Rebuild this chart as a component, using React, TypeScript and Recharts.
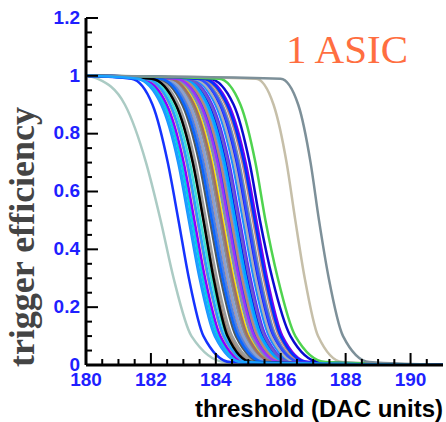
import React from 'react';
import { LineChart, Line, XAxis, YAxis } from 'recharts';

// efficiency levels at which each channel's threshold (DAC) was read
const efficiencyLevels = [0.99, 0.9, 0.7, 0.5, 0.3, 0.1, 0.01];
const scanStart = 180;
const scanEnd = 191;

// one row per channel: threshold at each efficiency level above
const channelThresholds: number[][] = [
  [180.35, 181.2, 181.85, 182.3, 182.7, 183.25, 184.3],
  [185.24, 185.78, 186.18, 186.45, 186.74, 187.15, 187.9],
  [181.57, 182.32, 182.84, 183.17, 183.5, 183.97, 184.77],
  [181.67, 182.42, 182.94, 183.27, 183.6, 184.07, 184.87],
  [181.74, 182.49, 183.01, 183.34, 183.67, 184.14, 184.94],
  [181.83, 182.58, 183.1, 183.43, 183.76, 184.23, 185.03],
  [181.93, 182.68, 183.2, 183.53, 183.86, 184.33, 185.13],
  [182.03, 182.78, 183.3, 183.63, 183.96, 184.43, 185.23],
  [182.1, 182.85, 183.37, 183.7, 184.03, 184.5, 185.3],
  [182.22, 182.97, 183.49, 183.82, 184.15, 184.62, 185.42],
  [182.32, 183.07, 183.59, 183.92, 184.25, 184.72, 185.52],
  [182.42, 183.17, 183.69, 184.02, 184.35, 184.82, 185.62],
  [182.52, 183.27, 183.79, 184.12, 184.45, 184.92, 185.72],
  [182.62, 183.37, 183.89, 184.22, 184.55, 185.02, 185.82],
  [182.73, 183.48, 184.0, 184.33, 184.66, 185.13, 185.93],
  [182.83, 183.58, 184.1, 184.43, 184.76, 185.23, 186.03],
  [182.94, 183.69, 184.21, 184.54, 184.87, 185.34, 186.14],
  [183.04, 183.79, 184.31, 184.64, 184.97, 185.44, 186.24],
  [183.14, 183.89, 184.41, 184.74, 185.07, 185.54, 186.34],
  [183.24, 183.99, 184.51, 184.84, 185.17, 185.64, 186.44],
  [183.35, 184.1, 184.62, 184.95, 185.28, 185.75, 186.55],
  [183.45, 184.2, 184.72, 185.05, 185.38, 185.85, 186.65],
  [183.55, 184.3, 184.82, 185.15, 185.48, 185.95, 186.75],
  [183.65, 184.4, 184.92, 185.25, 185.58, 186.05, 186.85],
  [182.35, 183.1, 183.62, 183.95, 184.28, 184.75, 185.55],
  [182.45, 183.2, 183.72, 184.05, 184.38, 184.85, 185.65],
  [182.7, 183.45, 183.97, 184.3, 184.63, 185.1, 185.9],
  [182.88, 183.63, 184.15, 184.48, 184.81, 185.28, 186.08],
  [183.0, 183.75, 184.27, 184.6, 184.93, 185.4, 186.2],
  [183.1, 183.85, 184.37, 184.7, 185.03, 185.5, 186.3],
  [183.3, 184.05, 184.57, 184.9, 185.23, 185.7, 186.5],
  [183.4, 184.15, 184.67, 185.0, 185.33, 185.8, 186.6],
  [182.58, 183.33, 183.85, 184.18, 184.51, 184.98, 185.78],
  [181.85, 182.6, 183.12, 183.45, 183.78, 184.25, 185.05],
  [183.6, 184.35, 184.87, 185.2, 185.53, 186.0, 186.8],
  [182.78, 183.53, 184.05, 184.38, 184.71, 185.18, 185.98],
  [182.28, 183.03, 183.55, 183.88, 184.21, 184.68, 185.48],
  [182.02, 182.77, 183.29, 183.62, 183.93, 184.36, 185.1],
  [183.8, 184.55, 185.04, 185.36, 185.74, 186.3, 187.2],
  [184.1, 184.76, 185.22, 185.53, 185.91, 186.45, 187.38],
  [181.4, 182.05, 182.52, 182.85, 183.17, 183.62, 184.45],
  [186.0, 186.54, 186.92, 187.18, 187.48, 187.92, 188.73],
  [181.6, 182.35, 182.87, 183.2, 183.53, 184.0, 184.8],
];

const channelColors = [
  '#abcbc4', '#c6bfa9', '#1e90ff', '#00d4e6', '#8c00ff', '#bf8f80',
  '#40e0d0', '#a08878', '#9a9a9a', '#4d5a63', '#b4b4b4', '#c29484',
  '#8c8c8c', '#ffe800', '#c8a890', '#2040ff', '#3ca0ff', '#0000ee',
  '#5a2cff', '#1a8cff', '#1010ff', '#7890a8', '#c08a80', '#7a00ee',
  '#5080e0', '#8aa0d0', '#7d8fb0', '#b88878', '#00a6ff', '#6a5acd',
  '#aab0b8', '#3050ff', '#a07060', '#28a0ff', '#0030ff', '#9933ff',
  '#0a66ff', '#000000', '#0a0ad0', '#4fd34f', '#1533ff', '#7d9099',
  '#1aa3ff',
];

const xTicks = [
  180, 180.5, 181, 181.5, 182, 182.5, 183, 183.5, 184, 184.5, 185, 185.5,
  186, 186.5, 187, 187.5, 188, 188.5, 189, 189.5, 190, 190.5,
];
const xLabelTicks = [180, 182, 184, 186, 188, 190];
const yTicks = [
  0, 0.05, 0.1, 0.15, 0.2, 0.25, 0.3, 0.35, 0.4, 0.45, 0.5, 0.55, 0.6,
  0.65, 0.7, 0.75, 0.8, 0.85, 0.9, 0.95, 1, 1.05, 1.1, 1.15, 1.2,
];
const yLabelTicks = [0, 0.2, 0.4, 0.6, 0.8, 1, 1.2];

const curves = channelThresholds.map((row) => [
  { x: scanStart, y: 1 },
  ...row.map((t, i) => ({ x: t, y: efficiencyLevels[i] })),
  { x: scanEnd, y: 0 },
]);

const TICK_BLUE = '#1f1fff';
const tickFont = { fontFamily: '"Liberation Sans", Arial, sans-serif', fontWeight: 700, fontSize: 19 };

const isMajor = (v: number, list: number[]) => list.some((m) => Math.abs(m - v) < 1e-6);

// ticks point into the frame, long on labelled values, short on the rest
const renderBottomTick = (props: any) => {
  const x = Number(props.x);
  const y = Number(props.y);
  const major = isMajor(props.payload.value, xLabelTicks);
  return (
    <g key={`b-${props.index}`}>
      <path d={`M${x},${y}V${y - (major ? 12 : 6)}`} stroke="#000" strokeWidth={2} fill="none" />
      {major && (
        <text x={x} y={y + 21} textAnchor="middle" fill={TICK_BLUE} style={tickFont}>
          {props.payload.value}
        </text>
      )}
    </g>
  );
};

const renderTopTick = (props: any) => {
  const x = Number(props.x);
  const y = Number(props.y);
  const major = isMajor(props.payload.value, xLabelTicks);
  return (
    <path key={`t-${props.index}`} d={`M${x},${y}V${y + (major ? 12 : 6)}`} stroke="#000" strokeWidth={2} fill="none" />
  );
};

const renderLeftTick = (props: any) => {
  const x = Number(props.x);
  const y = Number(props.y);
  const major = isMajor(props.payload.value, yLabelTicks);
  return (
    <g key={`l-${props.index}`}>
      <path d={`M${x},${y}H${x + (major ? 12 : 6)}`} stroke="#000" strokeWidth={2} fill="none" />
      {major && (
        <text x={x - 6} y={y} dy="0.3em" textAnchor="end" fill={TICK_BLUE} style={tickFont}>
          {String(props.payload.value)}
        </text>
      )}
    </g>
  );
};

const renderRightTick = (props: any) => {
  const x = Number(props.x);
  const y = Number(props.y);
  const major = isMajor(props.payload.value, yLabelTicks);
  return (
    <path key={`r-${props.index}`} d={`M${x},${y}H${x - (major ? 12 : 6)}`} stroke="#000" strokeWidth={2} fill="none" />
  );
};

const frame = { stroke: '#000', strokeWidth: 3 };

export default function App() {
  return (
    <div style={{ position: 'absolute', left: 0, top: 0, width: 446, height: 422, background: '#fff' }}>
      <LineChart width={446} height={422} margin={{ top: 18, right: 3, bottom: 0, left: 0 }}>
        <XAxis
          xAxisId={0}
          type="number"
          dataKey="x"
          domain={[scanStart, scanEnd]}
          allowDataOverflow
          ticks={xTicks}
          interval={0}
          height={57}
          tickSize={0}
          tickMargin={0}
          tickLine={false}
          axisLine={frame}
          tick={renderBottomTick}
        />
        <XAxis
          xAxisId="top"
          orientation="top"
          type="number"
          dataKey="x"
          domain={[scanStart, scanEnd]}
          allowDataOverflow
          ticks={xTicks}
          interval={0}
          height={0}
          tickSize={0}
          tickMargin={0}
          tickLine={false}
          axisLine={frame}
          tick={renderTopTick}
        />
        <YAxis
          yAxisId={0}
          type="number"
          domain={[0, 1.2]}
          allowDataOverflow
          ticks={yTicks}
          interval={0}
          width={86}
          tickSize={0}
          tickMargin={0}
          tickLine={false}
          axisLine={frame}
          tick={renderLeftTick}
        />
        <YAxis
          yAxisId="right"
          orientation="right"
          type="number"
          domain={[0, 1.2]}
          allowDataOverflow
          ticks={yTicks}
          interval={0}
          width={0}
          tickSize={0}
          tickMargin={0}
          tickLine={false}
          axisLine={frame}
          tick={renderRightTick}
        />
        {curves.map((d, i) => (
          <Line
            key={i}
            xAxisId={0}
            yAxisId={0}
            data={d}
            dataKey="y"
            type="monotone"
            stroke={channelColors[i]}
            strokeWidth={2.5}
            dot={false}
            activeDot={false}
            isAnimationActive={false}
          />
        ))}
      </LineChart>
      <svg width={446} height={422} style={{ position: 'absolute', left: 0, top: 0, pointerEvents: 'none' }}>
        <text
          x={408}
          y={63}
          textAnchor="end"
          fill="#ff6e40"
          style={{ fontFamily: '"Liberation Serif", "Times New Roman", serif', fontSize: 41 }}
        >
          1 ASIC
        </text>
        <text
          x={34}
          y={237}
          textAnchor="middle"
          transform="rotate(-90, 34, 237)"
          fill="#444"
          style={{ fontFamily: '"Liberation Serif", "Times New Roman", serif', fontWeight: 700, fontSize: 36 }}
        >
          trigger efficiency
        </text>
        <text
          x={443}
          y={417}
          textAnchor="end"
          fill="#000"
          style={{ fontFamily: '"Liberation Sans", Arial, sans-serif', fontWeight: 700, fontSize: 24 }}
        >
          threshold (DAC units)
        </text>
      </svg>
    </div>
  );
}
